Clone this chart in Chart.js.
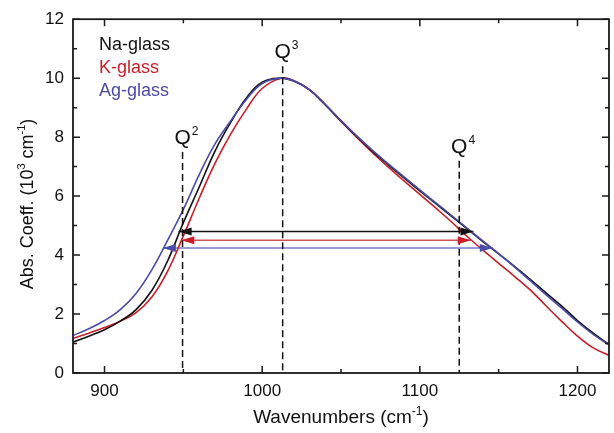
<!DOCTYPE html>
<html>
<head>
<meta charset="utf-8">
<script src="https://cdn.jsdelivr.net/npm/chart.js@4.4.0/dist/chart.umd.min.js"></script>
<style>
  html, body { margin: 0; padding: 0; background: #fff; }
  #wrap { width: 614px; height: 433px; position: relative; }
</style>
</head>
<body>
<div id="wrap"><canvas id="grafico"></canvas></div>
<script>
var wavenumbers = [880, 890, 900, 910, 920, 930, 940, 950, 960, 970, 980, 990, 1000, 1012,
                   1020, 1030, 1040, 1050, 1060, 1070, 1080, 1090, 1100, 1110, 1120, 1130,
                   1140, 1150, 1160, 1170, 1180, 1190, 1200, 1210, 1220];

var naGlass = [1.05, 1.25, 1.47, 1.76, 2.15, 2.80, 3.80, 5.10, 6.30, 7.52, 8.50, 9.33, 9.86, 10.0,
               9.90, 9.60, 9.10, 8.55, 8.02, 7.52, 7.06, 6.62, 6.18, 5.75, 5.32, 4.89,
               4.46, 4.04, 3.62, 3.18, 2.72, 2.27, 1.78, 1.35, 0.97];

var kGlass = [1.17, 1.35, 1.54, 1.76, 2.05, 2.58, 3.45, 4.65, 5.92, 7.10, 8.10, 8.95, 9.65, 10.0,
              9.92, 9.61, 9.10, 8.53, 7.99, 7.47, 6.98, 6.52, 6.06, 5.60, 5.13, 4.63,
              4.17, 3.72, 3.28, 2.82, 2.28, 1.75, 1.25, 0.85, 0.60];

var agGlass = [1.27, 1.50, 1.78, 2.15, 2.70, 3.50, 4.50, 5.55, 6.72, 7.76, 8.55, 9.28, 9.82, 10.0,
               9.91, 9.61, 9.11, 8.56, 8.04, 7.55, 7.09, 6.65, 6.21, 5.78, 5.35, 4.91,
               4.48, 4.05, 3.60, 3.13, 2.66, 2.20, 1.73, 1.31, 0.95];

var seriesNames = ['Na-glass', 'K-glass', 'Ag-glass'];
var seriesColors = ['#111111', '#c81e28', '#4b4ba8'];
var shaftColors = ['#111111', '#d0535a', '#7a7ac4'];

var xTicks = [900, 1000, 1100, 1200];
var xMinorTicks = [950, 1050, 1150];
var yTicks = [0, 2, 4, 6, 8, 10, 12];
var yMinorTicks = [1, 3, 5, 7, 9, 11];

// linhas tracejadas Q2, Q3, Q4
var qPositions = [949.5, 1013, 1125];
var qTops = [7.5, 10.4, 7.2];
var qIndex = ['2', '3', '4'];

// setas horizontais (Na, K, Ag)
var arrowLevels = [4.80, 4.50, 4.24];
var arrowStarts = [947, 948.7, 937];
var arrowEnds = [1134, 1132.3, 1146.3];

var fonte = '"Liberation Sans", Arial, sans-serif';

function serie(valores) {
  return wavenumbers.map(function (x, i) { return { x: x, y: valores[i] }; });
}

var datasets = [];
var curvas = [naGlass, kGlass, agGlass];
var ordens = [2, 3, 1];
curvas.forEach(function (valores, i) {
  datasets.push({
    label: seriesNames[i],
    data: serie(valores),
    borderColor: seriesColors[i],
    borderWidth: 1.6,
    pointRadius: 0,
    showLine: true,
    tension: 0.4,
    order: ordens[i]
  });
});
arrowLevels.forEach(function (nivel, i) {
  datasets.push({
    data: [{ x: arrowStarts[i], y: nivel }, { x: arrowEnds[i], y: nivel }],
    borderColor: shaftColors[i],
    borderWidth: 1.5,
    pointRadius: 0,
    showLine: true,
    order: 4
  });
});
qPositions.forEach(function (pos, i) {
  datasets.push({
    data: [{ x: pos, y: qTops[i] }, { x: pos, y: 0 }],
    borderColor: '#111',
    borderWidth: 1.5,
    borderDash: [7, 4],
    pointRadius: 0,
    showLine: true,
    order: 0
  });
});

// texto com sobrescrito
function desenhaRico(c, partes, x, y, tam, cor) {
  var total = 0;
  partes.forEach(function (p) {
    c.font = (p.sup ? Math.round(tam * 0.62) : tam) + 'px ' + fonte;
    p.w = c.measureText(p.t).width;
    total += p.w;
  });
  var cx = x - total / 2;
  c.fillStyle = cor;
  c.textBaseline = 'alphabetic';
  c.textAlign = 'left';
  partes.forEach(function (p) {
    c.font = (p.sup ? Math.round(tam * 0.62) : tam) + 'px ' + fonte;
    c.fillText(p.t, cx, p.sup ? y - tam * 0.42 : y);
    cx += p.w;
  });
}

var extras = {
  id: 'extras',
  afterDatasetsDraw: function (chart) {
    var c = chart.ctx;
    var xs = chart.scales.x, ys = chart.scales.y;
    var area = chart.chartArea;
    c.save();

    // pontas das setas
    arrowLevels.forEach(function (nivel, i) {
      var y = ys.getPixelForValue(nivel);
      var x1 = xs.getPixelForValue(arrowStarts[i]);
      var x2 = xs.getPixelForValue(arrowEnds[i]);
      c.fillStyle = seriesColors[i];
      c.beginPath();
      c.moveTo(x1, y); c.lineTo(x1 + 13, y - 4); c.lineTo(x1 + 13, y + 4); c.closePath();
      c.fill();
      c.beginPath();
      c.moveTo(x2, y); c.lineTo(x2 - 13, y - 4); c.lineTo(x2 - 13, y + 4); c.closePath();
      c.fill();
    });

    // moldura e marcas para dentro
    c.strokeStyle = '#1a1a1a';
    c.lineWidth = 1.8;
    c.strokeRect(area.left, area.top, area.right - area.left, area.bottom - area.top);
    c.lineWidth = 1.5;
    c.beginPath();
    function marcasX(vals, len) {
      vals.forEach(function (v) {
        var x = xs.getPixelForValue(v);
        c.moveTo(x, area.bottom); c.lineTo(x, area.bottom - len);
        c.moveTo(x, area.top); c.lineTo(x, area.top + len);
      });
    }
    function marcasY(vals, len) {
      vals.forEach(function (v) {
        var y = ys.getPixelForValue(v);
        c.moveTo(area.left, y); c.lineTo(area.left + len, y);
        c.moveTo(area.right, y); c.lineTo(area.right - len, y);
      });
    }
    marcasX(xTicks, 7); marcasX(xMinorTicks, 4);
    marcasY(yTicks, 7); marcasY(yMinorTicks, 4);
    c.stroke();

    // rotulos Q
    qPositions.forEach(function (pos, i) {
      var x = xs.getPixelForValue(pos);
      var y = ys.getPixelForValue(qTops[i]) - 8;
      c.font = '21px ' + fonte;
      c.fillStyle = '#111';
      c.textAlign = 'center';
      c.textBaseline = 'alphabetic';
      c.fillText('Q', x, y);
      var w = c.measureText('Q').width;
      c.font = '12px ' + fonte;
      c.textAlign = 'left';
      c.fillText(qIndex[i], x + w / 2 + 1, y - 9);
    });

    // legenda
    seriesNames.forEach(function (nome, i) {
      c.font = '18px ' + fonte;
      c.fillStyle = seriesColors[i];
      c.textAlign = 'left';
      c.textBaseline = 'alphabetic';
      c.fillText(nome, area.left + 26, area.top + 31 + i * 23);
    });

    // titulos dos eixos
    desenhaRico(c, [{ t: 'Wavenumbers (cm' }, { t: '-1', sup: true }, { t: ')' }],
      (area.left + area.right) / 2, 423, 19, '#111');
    c.translate(33, 204);
    c.rotate(-Math.PI / 2);
    desenhaRico(c, [{ t: 'Abs. Coeff. (10' }, { t: '3', sup: true }, { t: ' cm' }, { t: '-1', sup: true }, { t: ')' }],
      0, 0, 18, '#111');
    c.restore();
  }
};

function rotulo(v) { return String(v); }

new Chart(document.getElementById('grafico').getContext('2d'), {
  type: 'scatter',
  data: { datasets: datasets },
  options: {
    responsive: true,
    maintainAspectRatio: false,
    animation: false,
    layout: { padding: { top: 15, right: 5, left: 0, bottom: 0 } },
    plugins: { legend: { display: false }, tooltip: { enabled: false } },
    scales: {
      x: {
        type: 'linear', min: 880, max: 1220,
        grid: { display: false, drawTicks: false },
        border: { display: false },
        afterBuildTicks: function (a) { a.ticks = xTicks.map(function (v) { return { value: v }; }); },
        afterFit: function (a) { a.height = 60; },
        ticks: { font: { family: fonte, size: 17 }, color: '#111', padding: 8, maxRotation: 0, callback: rotulo }
      },
      y: {
        type: 'linear', min: 0, max: 12,
        grid: { display: false, drawTicks: false },
        border: { display: false },
        afterBuildTicks: function (a) { a.ticks = yTicks.map(function (v) { return { value: v }; }); },
        afterFit: function (a) { a.width = 73; },
        ticks: { font: { family: fonte, size: 17 }, color: '#111', padding: 9, callback: rotulo }
      }
    }
  },
  plugins: [extras]
});
</script>
</body>
</html>
